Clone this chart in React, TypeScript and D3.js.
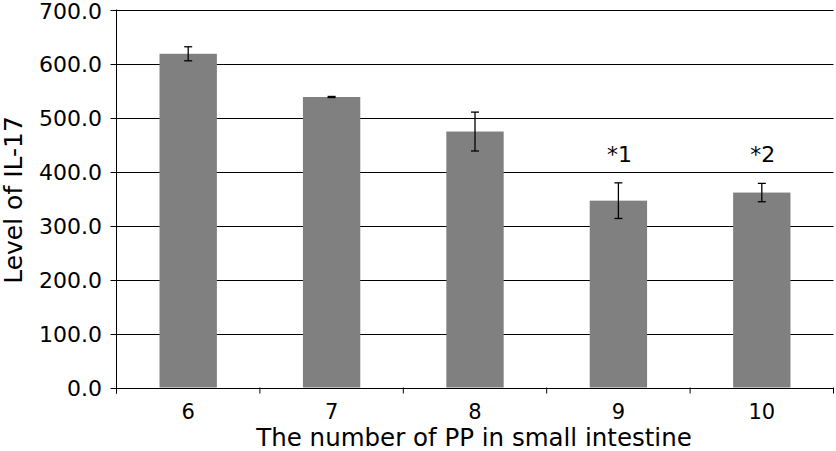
import React from 'react'
import * as d3 from 'd3'

const categories = ['6', '7', '8', '9', '10']
const values = [618, 538, 474, 346, 361]
const errors = [13, 1, 36, 33, 17]
const marks = ['', '', '', '*1', '*2']
const yTicks = [0, 100, 200, 300, 400, 500, 600, 700]

const Label = ({x, y, rotate = 0, anchor = 'middle', size, dy = '0', children}) =>
    <text transform={`translate(${x},${y}) rotate(${rotate})`} textAnchor={anchor} dy={dy}
        fontFamily="DejaVu Sans, Verdana, sans-serif" fontSize={size}>{children}</text>

const App = () => {
    const width = 836
    const height = 451
    const left = 116.5
    const right = 833.5
    const top = 9.5
    const bottom = 387.5

    const x = d3.scaleBand().domain(categories).range([left, right]).paddingInner(0.6).paddingOuter(0.3)
    const y = d3.scaleLinear().domain([0, 700]).range([bottom, top])
    const step = x.step()
    const cx = c => x(c) + x.bandwidth() / 2

    return <svg width={width} height={height} style={{position: 'absolute', left: 0, top: 0, background: '#fff'}}>
        <g>
            {yTicks.map(d => <g key={d}>
                <line x1={left - 6} x2={d === 0 ? left : right} y1={Math.round(y(d)) + 0.5} y2={Math.round(y(d)) + 0.5} stroke="#000" strokeWidth={1}></line>
                <Label x={102} y={d === 700 ? y(d) + 1.5 : y(d) + 1} dy="0.36em" anchor="end" size={22}>{d.toFixed(1)}</Label>
            </g>)}
        </g>
        <g>
            {values.map((v, i) => <rect key={i} x={x(categories[i])} y={y(v)} width={x.bandwidth()} height={bottom - y(v)} fill="#808080"></rect>)}
        </g>
        <g stroke="#000" strokeWidth={1.3}>
            {values.map((v, i) => {
                const c = cx(categories[i])
                return <g key={i}>
                    <line x1={c} x2={c} y1={y(v + errors[i])} y2={y(v - errors[i])}></line>
                    <line x1={c - 4} x2={c + 4} y1={y(v + errors[i])} y2={y(v + errors[i])}></line>
                    <line x1={c - 4} x2={c + 4} y1={y(v - errors[i])} y2={y(v - errors[i])}></line>
                </g>
            })}
        </g>
        <line x1={left} x2={left} y1={top} y2={bottom + 6} stroke="#000"></line>
        <line x1={left} x2={right} y1={Math.round(bottom) + 0.5} y2={Math.round(bottom) + 0.5} stroke="#000"></line>
        {d3.range(categories.length + 1).map(i => <line key={i} x1={left + i * step} x2={left + i * step} y1={bottom} y2={bottom + 6} stroke="#000"></line>)}
        {categories.map(c => <Label key={c} x={cx(c)} y={419} size={21}>{c}</Label>)}
        {marks.map((m, i) => m ? <Label key={i} x={cx(categories[i]) + 1} y={162} size={22}>{m}</Label> : null)}
        <Label x={(left + right) / 2 - 1} y={446} size={24.5}>The number of PP in small intestine</Label>
        <Label x={22} y={200} rotate={-90} size={25}>Level of IL-17</Label>
    </svg>
}

export default App
